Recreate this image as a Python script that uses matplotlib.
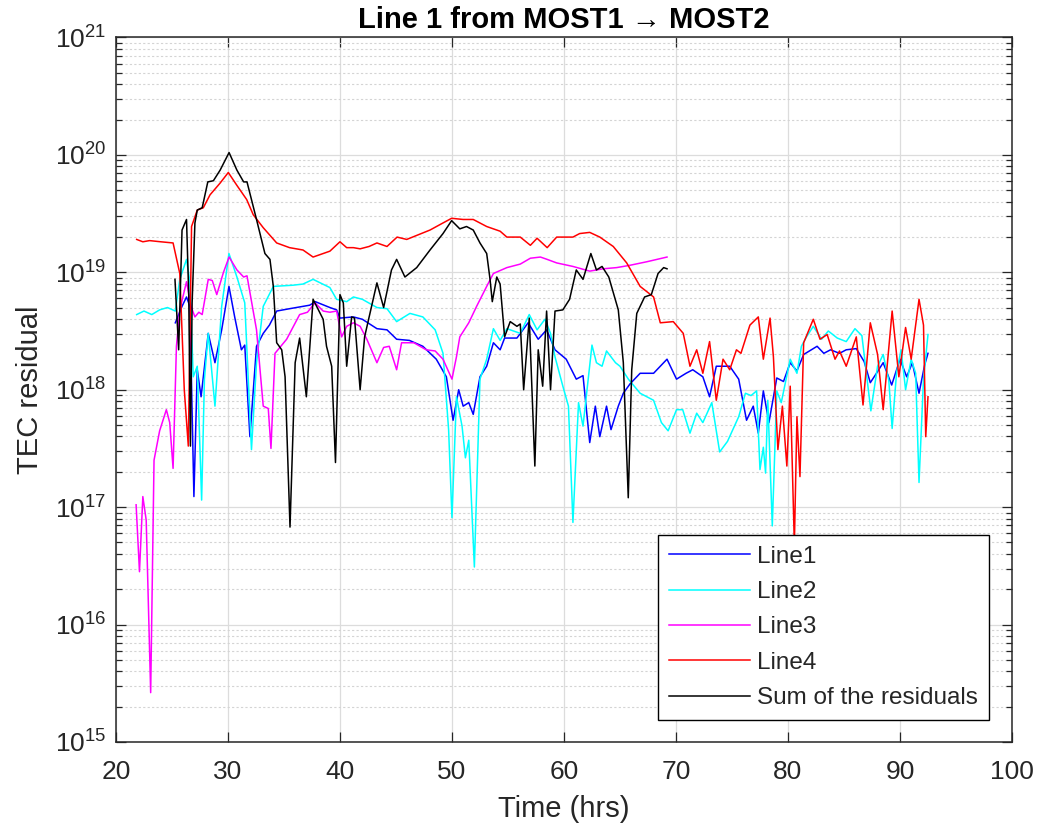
import numpy as np
import matplotlib
matplotlib.use("Agg")
import matplotlib.pyplot as plt
from matplotlib.ticker import NullLocator, FixedLocator, NullFormatter, LogFormatterSciNotation

plt.rcParams['font.family'] = ['Liberation Sans', 'DejaVu Sans']
plt.rcParams['mathtext.fontset'] = 'custom'
plt.rcParams['mathtext.rm'] = 'Liberation Sans'
plt.rcParams['mathtext.it'] = 'Liberation Sans:italic'
plt.rcParams['mathtext.bf'] = 'Liberation Sans:bold'

# residuals are kept as log10 values, time in hours
t_line1 = [25.3, 25.9, 26.3, 26.6, 26.96, 27.26, 27.6, 28.24, 28.84, 29.44, 30.09, 30.6,
           31.2, 31.5, 31.96, 32.55, 33.15, 33.7, 34.35, 35.5, 37.3, 37.8, 39.1, 39.7,
           40.0, 41.2, 42.0, 43.3, 44.2, 45.06, 46.2, 47.4, 48.6, 49.5, 50.1, 50.6,
           51.0, 51.5, 51.9, 52.5, 53.1, 53.7, 54.3, 54.7, 55.8, 56.8, 57.7, 58.45,
           59.2, 60.2, 61.1, 61.7, 62.3, 62.8, 63.2, 63.8, 64.2, 64.85, 65.3, 65.9,
           66.8, 68.0, 69.2, 70.05, 70.9, 71.5, 72.4, 73.0, 73.6, 74.8, 75.6, 76.3,
           76.9, 77.35, 77.8, 78.3, 79.0, 79.6, 80.2, 80.8, 81.4, 82.6, 83.2, 83.8,
           84.6, 85.2, 86.1, 86.8, 87.35, 87.9, 88.5, 89.26, 90.0, 90.6, 91.1, 91.7,
           92.2, 92.5]
log_line1 = [18.57, 18.71, 18.79, 18.71, 17.09, 18.17, 17.94, 18.48, 18.23, 18.51, 18.88, 18.62,
             18.34, 18.38, 17.60, 18.37, 18.48, 18.55, 18.67, 18.69, 18.72, 18.75, 18.70, 18.68,
             18.61, 18.62, 18.60, 18.52, 18.51, 18.43, 18.42, 18.37, 18.26, 18.11, 17.74, 18.00,
             17.86, 17.89, 17.79, 18.11, 18.20, 18.40, 18.34, 18.44, 18.44, 18.57, 18.43, 18.51,
             18.34, 18.26, 18.09, 18.12, 17.55, 17.86, 17.60, 17.86, 17.66, 17.86, 17.97, 18.05,
             18.14, 18.14, 18.26, 18.09, 18.14, 18.17, 18.11, 17.94, 18.20, 18.20, 18.09, 17.74,
             17.86, 17.63, 17.99, 17.72, 18.10, 18.07, 18.23, 18.16, 18.30, 18.37, 18.31, 18.34,
             18.31, 18.34, 18.35, 18.24, 18.06, 18.14, 18.23, 18.04, 18.26, 18.11, 18.23, 17.97,
             18.21, 18.31]

t_line2 = [21.85, 22.5, 23.2, 23.9, 24.6, 25.3, 25.7, 26.3, 26.6, 26.9, 27.26, 27.65,
           27.9, 28.24, 28.84, 29.44, 30.09, 30.8, 31.5, 32.1, 32.55, 33.15, 34.05, 35.8,
           36.7, 37.6, 39.1, 39.7, 40.6, 41.2, 42.0, 43.3, 44.2, 45.06, 46.25, 47.4,
           48.5, 49.2, 49.7, 50.0, 50.4, 50.9, 51.2, 51.5, 52.0, 52.5, 53.1, 53.7,
           54.3, 54.9, 56.1, 56.9, 57.6, 58.3, 58.8, 59.2, 59.9, 60.4, 60.8, 61.3,
           61.7, 62.5, 62.9, 63.4, 63.8, 64.6, 65.0, 65.75, 66.8, 68.0, 68.7, 69.3,
           70.05, 70.6, 71.25, 71.85, 72.4, 73.2, 73.9, 74.6, 75.6, 76.2, 76.7, 77.2,
           77.5, 77.8, 78.0, 78.2, 78.6, 79.0, 79.4, 80.2, 80.8, 81.2, 81.65, 82.26,
           83.0, 83.6, 84.4, 85.2, 85.98, 86.6, 87.0, 87.4, 88.0, 88.5, 89.0, 89.3,
           89.7, 90.1, 90.5, 91.0, 91.4, 91.7, 92.1, 92.5]
log_line2 = [18.64, 18.67, 18.64, 18.68, 18.70, 18.67, 18.94, 19.11, 18.92, 18.11, 18.20, 17.06,
             18.09, 18.48, 17.86, 18.71, 19.16, 18.96, 18.74, 17.49, 18.23, 18.71, 18.88, 18.89,
             18.90, 18.94, 18.87, 18.77, 18.75, 18.79, 18.77, 18.70, 18.69, 18.58, 18.65, 18.62,
             18.51, 18.31, 17.66, 16.91, 17.94, 17.69, 17.42, 17.57, 16.49, 18.09, 18.26, 18.52,
             18.42, 18.52, 18.48, 18.64, 18.51, 18.60, 18.48, 18.28, 18.03, 17.86, 16.87, 17.89,
             17.69, 18.38, 18.23, 18.20, 18.33, 18.23, 18.20, 18.09, 17.97, 17.91, 17.72, 17.65,
             17.83, 17.83, 17.63, 17.80, 17.72, 17.89, 17.47, 17.56, 17.77, 17.97, 17.95, 17.99,
             17.32, 17.51, 17.29, 17.91, 16.84, 17.99, 17.89, 18.26, 18.14, 18.37, 18.45, 18.54,
             18.43, 18.50, 18.44, 18.41, 18.52, 18.46, 18.14, 17.82, 18.20, 18.30, 18.08, 17.67,
             18.15, 18.34, 18.00, 18.26, 18.14, 17.21, 18.09, 18.47]

t_line3 = [21.8, 22.1, 22.4, 22.7, 23.1, 23.4, 23.9, 24.5, 24.8, 25.1, 25.4, 25.7,
           26.3, 26.7, 27.05, 27.4, 27.7, 28.24, 28.6, 29.0, 29.6, 30.1, 30.8, 31.4,
           31.7, 32.55, 33.15, 33.6, 33.84, 34.2, 35.24, 36.4, 37.1, 37.77, 38.5, 39.1,
           39.7, 40.15, 40.6, 41.2, 41.8, 42.4, 43.3, 43.9, 44.4, 45.06, 45.5, 46.6,
           47.7, 48.5, 49.2, 50.0, 50.4, 50.7, 51.5, 52.2, 53.1, 53.7, 54.9, 56.1,
           57.0, 57.9, 58.5, 59.35, 60.8, 62.3, 63.5, 64.7, 65.9, 67.4, 69.2]
log_line3 = [17.02, 16.45, 17.09, 16.89, 15.42, 17.40, 17.65, 17.83, 17.72, 17.33, 18.37, 18.68,
             18.92, 18.71, 18.62, 18.66, 18.64, 18.94, 18.93, 18.81, 19.00, 19.13, 19.02, 18.96,
             18.97, 18.51, 17.86, 17.84, 17.50, 18.31, 18.43, 18.64, 18.66, 18.74, 18.67, 18.66,
             18.67, 18.45, 18.54, 18.57, 18.54, 18.43, 18.23, 18.36, 18.37, 18.17, 18.40, 18.40,
             18.34, 18.33, 18.26, 18.09, 18.28, 18.45, 18.57, 18.71, 18.88, 18.99, 19.04, 19.07,
             19.12, 19.13, 19.11, 19.08, 19.05, 19.01, 19.03, 19.04, 19.06, 19.09, 19.13]

t_line4 = [21.85, 22.4, 23.0, 24.0, 25.1, 25.7, 26.1, 26.46, 26.75, 27.26, 27.8, 28.4,
           29.3, 30.03, 30.8, 31.67, 32.26, 33.15, 34.35, 35.5, 36.7, 37.6, 38.2, 39.1,
           40.0, 40.6, 41.2, 41.8, 42.6, 43.3, 44.2, 45.1, 45.96, 47.0, 48.04, 49.0,
           49.97, 51.0, 51.9, 53.1, 54.3, 54.9, 56.1, 57.0, 57.6, 58.5, 59.35, 60.8,
           61.4, 62.3, 63.2, 64.4, 65.6, 66.8, 68.0, 68.6, 69.76, 70.65, 71.25, 71.85,
           72.4, 73.0, 73.6, 74.2, 74.8, 75.4, 75.8, 76.6, 77.35, 77.8, 78.4, 78.7,
           79.1, 79.5, 79.9, 80.2, 80.57, 80.8, 81.07, 81.4, 82.26, 82.86, 83.5, 84.2,
           84.6, 85.2, 86.1, 86.7, 87.35, 88.0, 88.5, 89.3, 89.9, 90.5, 91.0, 91.7,
           92.1, 92.3, 92.5]
log_line4 = [19.28, 19.26, 19.27, 19.26, 19.25, 18.99, 18.00, 17.52, 19.39, 19.53, 19.55, 19.66,
             19.76, 19.85, 19.74, 19.62, 19.49, 19.38, 19.25, 19.21, 19.19, 19.13, 19.15, 19.18,
             19.26, 19.21, 19.21, 19.20, 19.22, 19.25, 19.22, 19.30, 19.28, 19.32, 19.36, 19.41,
             19.46, 19.45, 19.45, 19.39, 19.35, 19.30, 19.30, 19.23, 19.29, 19.21, 19.30, 19.30,
             19.33, 19.34, 19.30, 19.22, 19.08, 18.88, 18.79, 18.57, 18.58, 18.48, 18.20, 18.34,
             18.14, 18.41, 17.91, 18.26, 18.17, 18.34, 18.31, 18.55, 18.62, 18.26, 18.61, 18.28,
             17.49, 17.86, 17.35, 18.03, 16.68, 17.77, 17.26, 18.40, 18.60, 18.43, 18.47, 18.26,
             18.33, 18.20, 18.45, 17.87, 18.57, 18.30, 17.83, 18.67, 18.11, 18.53, 18.26, 18.77,
             18.55, 17.60, 17.94]

t_sum = [25.27, 25.6, 25.9, 26.3, 26.5, 26.65, 26.8, 27.05, 27.26, 27.7, 28.2, 28.7,
         29.3, 30.1, 30.8, 31.4, 31.7, 32.55, 33.3, 33.75, 34.05, 34.35, 34.8, 35.1,
         35.54, 36.0, 36.4, 37.0, 37.6, 38.5, 38.8, 39.26, 39.6, 40.0, 40.3, 40.6,
         41.04, 41.3, 41.8, 42.2, 43.3, 43.9, 44.6, 45.06, 45.8, 46.85, 48.04, 49.2,
         49.97, 50.7, 51.3, 51.9, 52.5, 53.1, 53.4, 53.6, 54.0, 54.3, 54.7, 55.2,
         55.8, 56.1, 56.4, 56.9, 57.4, 57.7, 58.1, 58.45, 58.8, 59.2, 59.9, 60.5,
         61.1, 61.7, 62.4, 62.9, 63.4, 64.0, 64.85, 65.3, 65.74, 66.05, 66.5, 67.2,
         67.8, 68.4, 68.9, 69.2]
log_sum = [18.94, 18.34, 19.36, 19.45, 18.80, 17.52, 18.74, 19.42, 19.53, 19.55, 19.77, 19.78,
           19.87, 20.02, 19.87, 19.77, 19.77, 19.45, 19.16, 19.11, 18.88, 18.40, 18.34, 18.11,
           16.83, 18.23, 18.44, 17.94, 18.77, 18.60, 18.37, 18.20, 17.38, 18.81, 18.74, 18.20,
           18.62, 18.61, 18.00, 18.45, 18.91, 18.70, 19.02, 19.11, 18.96, 19.04, 19.19, 19.33,
           19.44, 19.37, 19.39, 19.36, 19.25, 19.16, 18.94, 18.75, 18.96, 18.90, 18.45, 18.58,
           18.54, 18.56, 18.00, 18.61, 17.35, 18.34, 18.03, 18.67, 18.00, 18.67, 18.68, 18.77,
           19.02, 18.94, 19.16, 19.02, 19.05, 18.96, 18.68, 18.23, 17.08, 18.17, 18.65, 18.79,
           18.81, 18.99, 19.04, 19.03]

series = [
    (t_line1, log_line1, (0, 0, 1), 'Line1'),
    (t_line2, log_line2, (0, 1, 1), 'Line2'),
    (t_line3, log_line3, (1, 0, 1), 'Line3'),
    (t_line4, log_line4, (1, 0, 0), 'Line4'),
    (t_sum, log_sum, (0, 0, 0), 'Sum of the residuals'),
]

dark = '#262626'

fig = plt.figure(figsize=(10.39, 8.33), dpi=100)
ax = fig.add_axes([0.1116, 0.1093, 0.8624, 0.8457])

for t, lg, col, name in series:
    ax.plot(t, 10.0 ** np.array(lg), color=col, lw=1.1, label=name)

ax.set_yscale('log')
ax.set_xlim(20, 100)
ax.set_ylim(1e15, 1e21)
ax.xaxis.set_major_locator(FixedLocator(np.arange(20, 101, 10)))
ax.xaxis.set_minor_locator(NullLocator())

# decades 1e15..1e21 and the 2..9 subdivisions between them
decades = np.arange(15, 22)
ax.yaxis.set_major_locator(FixedLocator(10.0 ** decades))
ax.yaxis.set_major_formatter(LogFormatterSciNotation())
minor = [s * 10.0 ** d for d in decades[:-1] for s in range(2, 10)]
ax.yaxis.set_minor_locator(FixedLocator(minor))
ax.yaxis.set_minor_formatter(NullFormatter())

ax.grid(True, which='major', color='#dcdcdc', lw=0.9)
ax.grid(True, which='minor', axis='y', color='#d4d4d4', lw=0.8, ls=(0, (2, 2)))
ax.set_axisbelow(True)

ax.tick_params(which='both', direction='in', top=True, right=True, colors=dark,
               labelsize=19, width=0.9)
ax.tick_params(which='major', length=7)
ax.tick_params(axis='y', which='major', pad=7)
ax.tick_params(axis='x', which='major', pad=13)
ax.tick_params(which='minor', length=4)
for sp in ax.spines.values():
    sp.set_color(dark)
    sp.set_linewidth(1.1)

ax.set_xlabel('Time (hrs)', fontsize=21, color=dark, labelpad=8)
ax.set_ylabel('TEC residual', fontsize=21, color=dark, labelpad=8)
ax.set_title('Line 1 from MOST1 \u2192 MOST2', fontsize=21, fontweight='bold', pad=7)

leg = ax.legend(loc='lower right', bbox_to_anchor=(0.974, 0.031), borderaxespad=0,
                fontsize=17.5, fancybox=False, framealpha=1, edgecolor='black',
                handlelength=3.3, handletextpad=0.3, labelspacing=0.55, borderpad=0.45)
leg.get_frame().set_linewidth(1.0)
for txt in leg.get_texts():
    txt.set_color(dark)

fig.savefig('out.png', dpi=100)
